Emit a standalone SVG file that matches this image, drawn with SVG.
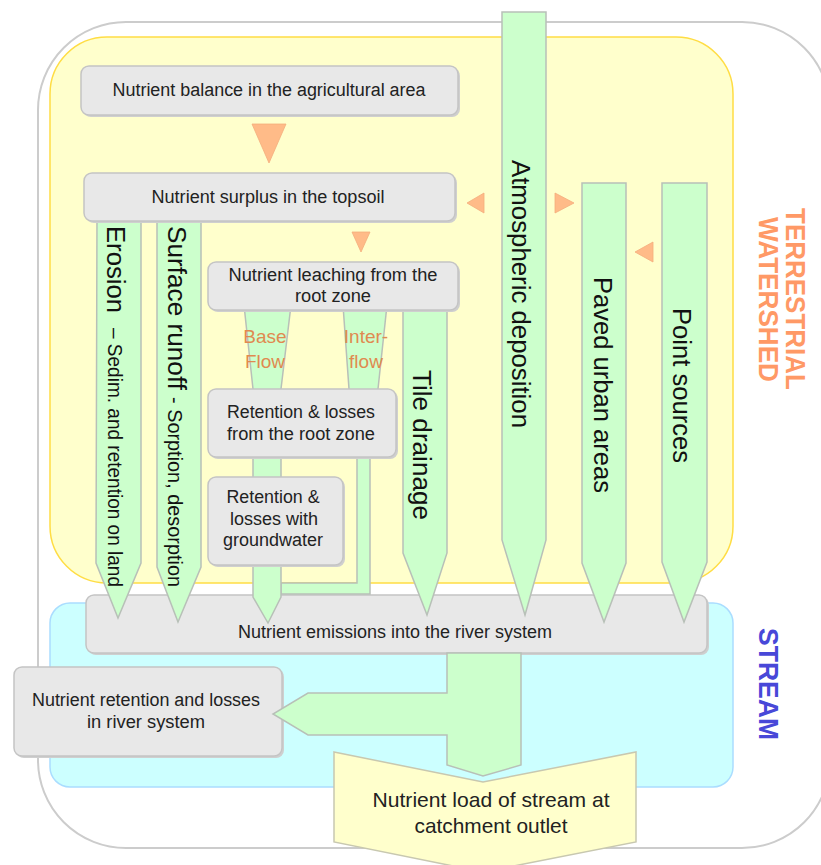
<svg xmlns="http://www.w3.org/2000/svg" width="821" height="865" viewBox="0 0 821 865">
<style>
.box{fill:#e8e8e8;stroke:#c4c4c4;stroke-width:1.5}
.sh{fill:#cfcfcf}
.flow{fill:#ccffcc;stroke:#b8c0b8;stroke-width:1.5;stroke-linejoin:miter}
.tri{fill:#ffbb88;stroke:#f4ad7c;stroke-width:0.8}
.t{font-family:"Liberation Sans",Arial,sans-serif;font-size:18px;fill:#222;text-anchor:middle}
.v{font-family:"Liberation Sans",Arial,sans-serif;font-size:26px;fill:#111}
.vs{font-family:"Liberation Sans",Arial,sans-serif;font-size:19.5px;fill:#111}
.o{font-family:"Liberation Sans",Arial,sans-serif;font-size:19px;fill:#e08a50;text-anchor:middle}
.big{font-family:"Liberation Sans",Arial,sans-serif;font-size:27px;font-weight:bold}
</style>
<rect width="821" height="865" fill="#ffffff"/>
<g id="background">
<rect x="38" y="22" width="792" height="826" rx="88" fill="#ffffff" stroke="#cccccc" stroke-width="2"/>
<rect id="terrestrial-area" x="50" y="37" width="683" height="546" rx="57" fill="#ffffcc" stroke="#ffdd44" stroke-width="1.5"/>
<rect id="stream-area" x="50" y="603" width="683" height="184" rx="20" fill="#ccffff" stroke="#aaddff" stroke-width="1.5"/>
</g>
<g id="emissions">
<rect class="sh" x="88" y="597" width="621" height="58" rx="8"/>
<rect class="box" x="86" y="595" width="621" height="58" rx="8"/>
<text class="t" x="395" y="638" textLength="314" lengthAdjust="spacingAndGlyphs">Nutrient emissions into the river system</text>
</g>
<g id="river-retention">
<rect class="sh" x="16" y="669" width="268" height="89" rx="8"/>
<rect class="box" x="14" y="667" width="268" height="89" rx="8"/>
<text class="t" x="146" y="706" textLength="228" lengthAdjust="spacingAndGlyphs">Nutrient retention and losses</text>
<text class="t" x="146" y="728" textLength="118" lengthAdjust="spacingAndGlyphs">in river system</text>
</g>
<g id="connectors">
<polygon class="flow" points="447,653 521,653 521,765 483,776 447,765 447,735 308,735 273,714 308,693 447,693"/>
<polygon class="tri" points="252,124 286,124 269,163"/>
<polygon class="tri" points="352,232 370,232 361,252"/>
<polygon class="tri" points="484,193 484,213 467,203"/>
<polygon class="tri" points="555,193 555,213 574,203"/>
<polygon class="tri" points="653,242 653,262 635,252"/>
</g>
<g id="outlet">
<polygon points="334,752 483,782 636,752 636,842 483,872 334,842" fill="#ffffcc" stroke="#c8c8b0" stroke-width="1.5"/>
<text class="t" x="491" y="807" style="font-size:21px" textLength="237" lengthAdjust="spacingAndGlyphs">Nutrient load of stream at</text>
<text class="t" x="491" y="833" style="font-size:21px" textLength="153" lengthAdjust="spacingAndGlyphs">catchment outlet</text>
</g>
<g id="erosion">
<polygon class="flow" points="97,215 141,215 141,563 118,618 96,563"/>
<text class="v" transform="translate(107,226) rotate(90)" textLength="87" lengthAdjust="spacingAndGlyphs">Erosion</text>
<text class="vs" transform="translate(108,328) rotate(90)" textLength="259" lengthAdjust="spacingAndGlyphs">– Sedim. and retention on land</text>
</g>
<g id="surface-runoff">
<polygon class="flow" points="157,215 201,215 201,567 178,622 157,567"/>
<text class="v" transform="translate(168,226) rotate(90)" textLength="164" lengthAdjust="spacingAndGlyphs">Surface runoff</text>
<text class="vs" transform="translate(168,397) rotate(90)" textLength="190" lengthAdjust="spacingAndGlyphs">- Sorption, desorption</text>
</g>
<g id="interflow">
<polygon class="flow" points="343,305 387,305 378,389 378,400 370,420 370,594 281,594 281,583 357,583 357,420 349,400 349,389"/>
<text class="o" x="366" y="343">Inter-</text>
<text class="o" x="366" y="368">flow</text>
</g>
<g id="base-flow">
<polygon class="flow" points="244,305 291,305 281,389 281,597 268,623 253,597 253,389"/>
<text class="o" x="265" y="343">Base</text>
<text class="o" x="265" y="368">Flow</text>
</g>
<g id="tile-drainage">
<polygon class="flow" points="403,305 447,305 447,553 427,615 403,553"/>
<text class="v" transform="translate(413,370) rotate(90)" textLength="150" lengthAdjust="spacingAndGlyphs">Tile drainage</text>
</g>
<g id="atmospheric-deposition">
<polygon class="flow" points="502,12 546,12 546,540 525,615 502,540"/>
<text class="v" transform="translate(512,160) rotate(90)" textLength="268" lengthAdjust="spacingAndGlyphs">Atmospheric deposition</text>
</g>
<g id="paved-urban-areas">
<polygon class="flow" points="582,183 626,183 626,563 604,622 582,563"/>
<text class="v" transform="translate(594,277) rotate(90)" textLength="216" lengthAdjust="spacingAndGlyphs">Paved urban areas</text>
</g>
<g id="point-sources">
<polygon class="flow" points="662,183 707,183 707,562 684,622 662,562"/>
<text class="v" transform="translate(673,308) rotate(90)" textLength="155" lengthAdjust="spacingAndGlyphs">Point sources</text>
</g>
<g id="nutrient-balance">
<rect class="sh" x="83" y="68" width="377" height="49" rx="8"/>
<rect class="box" x="81" y="66" width="377" height="49" rx="8"/>
<text class="t" x="269" y="96" textLength="313" lengthAdjust="spacingAndGlyphs">Nutrient balance in the agricultural area</text>
</g>
<g id="nutrient-surplus">
<rect class="sh" x="86" y="175" width="371" height="48" rx="8"/>
<rect class="box" x="84" y="173" width="371" height="48" rx="8"/>
<text class="t" x="268" y="203" textLength="233" lengthAdjust="spacingAndGlyphs">Nutrient surplus in the topsoil</text>
</g>
<g id="nutrient-leaching">
<rect class="sh" x="210" y="264" width="250" height="48" rx="8"/>
<rect class="box" x="208" y="262" width="250" height="48" rx="8"/>
<text class="t" x="333" y="281" textLength="209" lengthAdjust="spacingAndGlyphs">Nutrient leaching from the</text>
<text class="t" x="333" y="302" textLength="76" lengthAdjust="spacingAndGlyphs">root zone</text>
</g>
<g id="retention-root-zone">
<rect class="sh" x="210" y="391" width="188" height="68" rx="8"/>
<rect class="box" x="208" y="389" width="188" height="68" rx="8"/>
<text class="t" x="301" y="418" textLength="148" lengthAdjust="spacingAndGlyphs">Retention &amp; losses</text>
<text class="t" x="301" y="440" textLength="148" lengthAdjust="spacingAndGlyphs">from the root zone</text>
</g>
<g id="retention-groundwater">
<rect class="sh" x="210" y="479" width="135" height="88" rx="8"/>
<rect class="box" x="208" y="477" width="135" height="88" rx="8"/>
<text class="t" x="273" y="503" textLength="93" lengthAdjust="spacingAndGlyphs">Retention &amp;</text>
<text class="t" x="274" y="525" textLength="88" lengthAdjust="spacingAndGlyphs">losses with</text>
<text class="t" x="273" y="546" textLength="100" lengthAdjust="spacingAndGlyphs">groundwater</text>
</g>
<g id="labels">
<text class="big" fill="#ff9966" transform="translate(786,208) rotate(90)" textLength="182" lengthAdjust="spacingAndGlyphs">TERRESTRIAL</text>
<text class="big" fill="#ff9966" transform="translate(759,217) rotate(90)" textLength="165" lengthAdjust="spacingAndGlyphs">WATERSHED</text>
<text class="big" fill="#4848d8" transform="translate(759,628) rotate(90)" textLength="112" lengthAdjust="spacingAndGlyphs">STREAM</text>
</g>
</svg>
